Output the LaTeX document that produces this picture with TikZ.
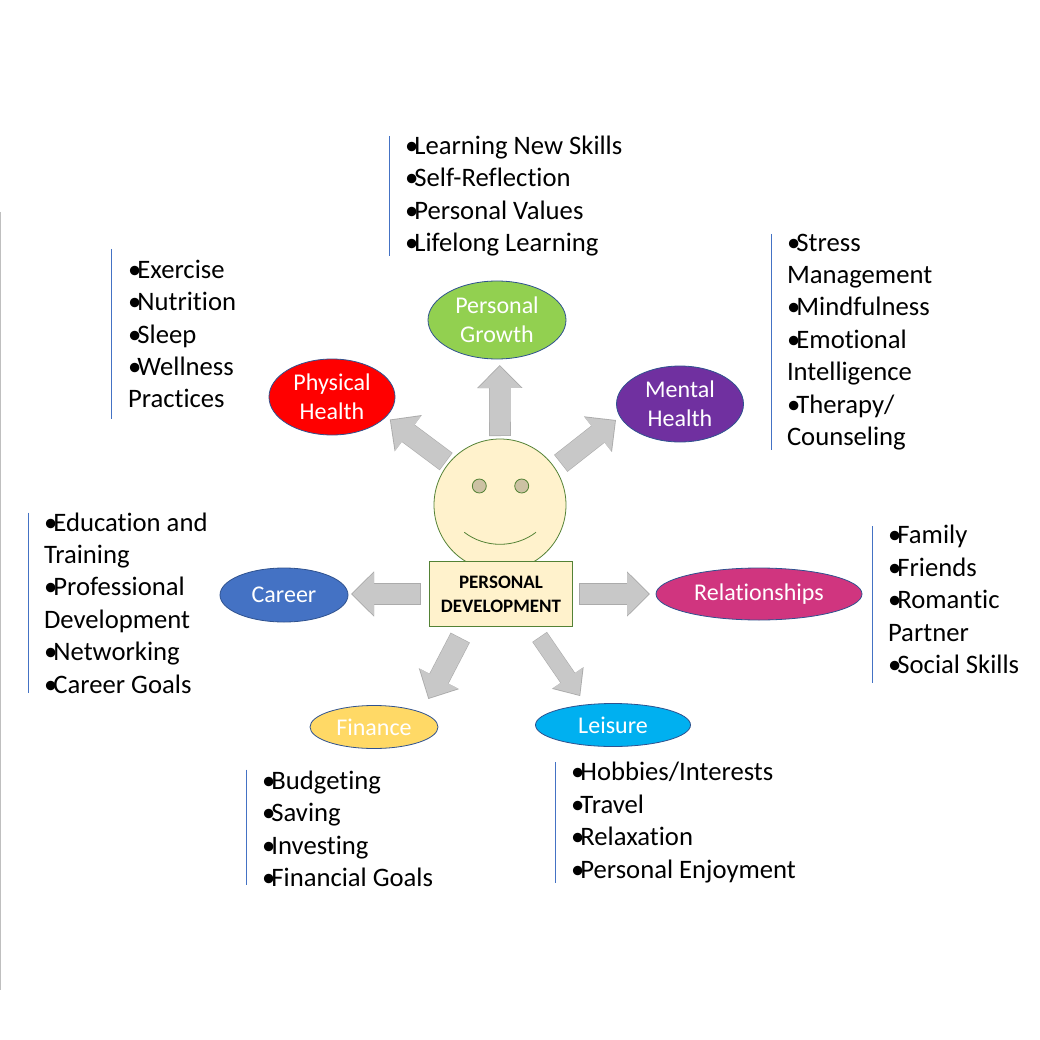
\documentclass[tikz,border=0pt]{standalone}
\usepackage{fontspec}
\setmainfont[Ligatures=NoCommon]{Carlito}
\usetikzlibrary{shapes.geometric,arrows.meta}

\definecolor{growthgreen}{HTML}{92D050}
\definecolor{physicalred}{HTML}{FF0000}
\definecolor{mentalpurple}{HTML}{7030A0}
\definecolor{careerblue}{HTML}{4472C4}
\definecolor{relationpink}{HTML}{D0357F}
\definecolor{financeyellow}{HTML}{FFD966}
\definecolor{leisureblue}{HTML}{00B0F0}
\definecolor{ellipseedge}{HTML}{2F528F}
\definecolor{facefill}{HTML}{FFF2CC}
\definecolor{faceedge}{HTML}{548235}
\definecolor{eyefill}{HTML}{CCC1A3}
\definecolor{arrowfill}{HTML}{C8C8C8}
\definecolor{arrowedge}{HTML}{ABABAB}

\newcommand{\bul}{\makebox[9.4pt][l]{•}}

\begin{document}
\begin{tikzpicture}[
    x=1pt, y=-1pt,
    topic/.style={draw=ellipseedge, line width=0.8pt, ellipse, inner sep=0pt, outer sep=0pt, text=white, align=center, font=\fontsize{24}{28.8}\selectfont},
    facepart/.style={draw=faceedge, fill=facefill, line width=0.8pt, inner sep=0pt, outer sep=0pt},
    eye/.style={circle, draw=faceedge, fill=eyefill, line width=0.8pt, minimum size=14pt, inner sep=0pt, outer sep=0pt},
    listbox/.style={anchor=west, align=left, inner sep=0pt, outer sep=0pt, font=\fontsize{26.67}{32.4}\selectfont},
    listrule/.style={draw=careerblue, line width=0.7pt},
    bigarrow/.style 2 args={draw=arrowedge, line width=21.6pt, shorten <=#1pt, shorten >=#2pt, -{Triangle[width=44pt,length=23pt]},
        postaction={draw=arrowfill, line width=20.4pt, shorten <=#1pt+0.6pt, shorten >=#2pt+1.2pt, -{Triangle[width=41.6pt,length=21.8pt]}}},
    slimarrow/.style 2 args={draw=arrowedge, line width=17.8pt, shorten <=#1pt, shorten >=#2pt, -{Triangle[width=37pt,length=22pt]},
        postaction={draw=arrowfill, line width=16.6pt, shorten <=#1pt+0.6pt, shorten >=#2pt+1.2pt, -{Triangle[width=34.6pt,length=20.8pt]}}}
]

\useasboundingbox (0,0) rectangle (1040,1040);

% Centre figure
\node[facepart, circle, minimum size=132pt] (face) at (500,505) {};
\node[eye] (lefteye) at (479.3,486) {};
\node[eye] (righteye) at (521.7,486) {};
\draw[faceedge, line width=0.8pt] (464.3,532.3) .. controls (485,548.3) and (515,548.3) .. (536,532.3);
\node[facepart, rectangle, minimum width=143.4pt, minimum height=65.4pt, align=center, text=black, font=\fontsize{19}{24}\selectfont\bfseries] (title) at (501,594) {PERSONAL\\DEVELOPMENT};

% Topics
\node[topic, fill=growthgreen, minimum width=138pt, minimum height=78pt] (growth) at (497,320) {Personal\\Growth};
\node[topic, fill=physicalred, minimum width=126pt, minimum height=76pt] (physical) at (332,397) {Physical\\Health};
\node[topic, fill=mentalpurple, minimum width=127pt, minimum height=76pt] (mental) at (680,404) {Mental\\Health};
\node[topic, fill=careerblue, minimum width=128pt, minimum height=54pt] (career) at (284,595) {Career};
\node[topic, fill=relationpink, minimum width=206pt, minimum height=52pt] (relationships) at (759,594) {Relationships};
\node[topic, fill=financeyellow, minimum width=128pt, minimum height=43pt] (finance) at (374,727) {Finance};
\node[topic, fill=leisureblue, minimum width=155pt, minimum height=43pt] (leisure) at (613,725) {Leisure};

% Arrows
\draw[bigarrow={3}{6}] (face.north) -- (growth.274.4);
\draw[bigarrow={3.2}{4.8}] (face.141.5) -- (physical.340.3);
\draw[bigarrow={7.7}{5.3}] (face.34.9) -- (mental.192.1);
\draw[bigarrow={8.3}{3}] (title.west) -- (career.east |- title.west);
\draw[bigarrow={6.6}{6}] (title.east) -- (relationships.west);
\draw[bigarrow={12.3}{15.2}] (title.223.7) -- (finance.17.3);
\draw[slimarrow={12.4}{10.6}] (title.314.4) -- (leisure.143.2);

% Lists
\node[listbox, minimum height=116pt] (growthlist) at (405,196) {\bul Learning New Skills\\\bul Self-Reflection\\\bul Personal Values\\\bul Lifelong Learning};
\node[listbox, minimum height=170pt] (physicallist) at (128,334) {\bul Exercise\\\bul Nutrition\\\bul Sleep\\\bul Wellness\\Practices};
\node[listbox, minimum height=214pt] (mentallist) at (787,342) {\bul Stress\\Management\\\bul Mindfulness\\\bul Emotional\\Intelligence\\\bul Therapy/\\Counseling};
\node[listbox, minimum height=180pt] (careerlist) at (44,603) {\bul Education and\\Training\\\bul Professional\\Development\\\bul Networking\\\bul Career Goals};
\node[listbox, minimum height=157pt] (relationlist) at (888,599.5) {\bul Family\\\bul Friends\\\bul Romantic\\Partner\\\bul Social Skills};
\node[listbox, minimum height=113pt] (financelist) at (262,829) {\bul Budgeting\\\bul Saving\\\bul Investing\\\bul Financial Goals};
\node[listbox, minimum height=121pt] (leisurelist) at (571,822.5) {\bul Hobbies/Interests\\\bul Travel\\\bul Relaxation\\\bul Personal Enjoyment};

% Rules beside the lists
\draw[listrule] ([xshift=-16pt]growthlist.north west) -- ([xshift=-16pt]growthlist.south west);
\draw[listrule] ([xshift=-17pt]physicallist.north west) -- ([xshift=-17pt]physicallist.south west);
\draw[listrule] ([xshift=-16pt]mentallist.north west) -- ([xshift=-16pt]mentallist.south west);
\draw[listrule] ([xshift=-16pt]careerlist.north west) -- ([xshift=-16pt]careerlist.south west);
\draw[listrule] ([xshift=-16pt,yshift=-5pt]relationlist.north west) -- ([xshift=-16pt,yshift=-5pt]relationlist.south west);
\draw[listrule] ([xshift=-16pt,yshift=1.5pt]financelist.north west) -- ([xshift=-16pt,yshift=1.5pt]financelist.south west);
\draw[listrule] ([xshift=-16pt]leisurelist.north west) -- ([xshift=-16pt]leisurelist.south west);

% Edge line on the far left
\draw[black!25, line width=0.8pt] (0.5,212) -- (0.5,990);

\end{tikzpicture}
\end{document}
